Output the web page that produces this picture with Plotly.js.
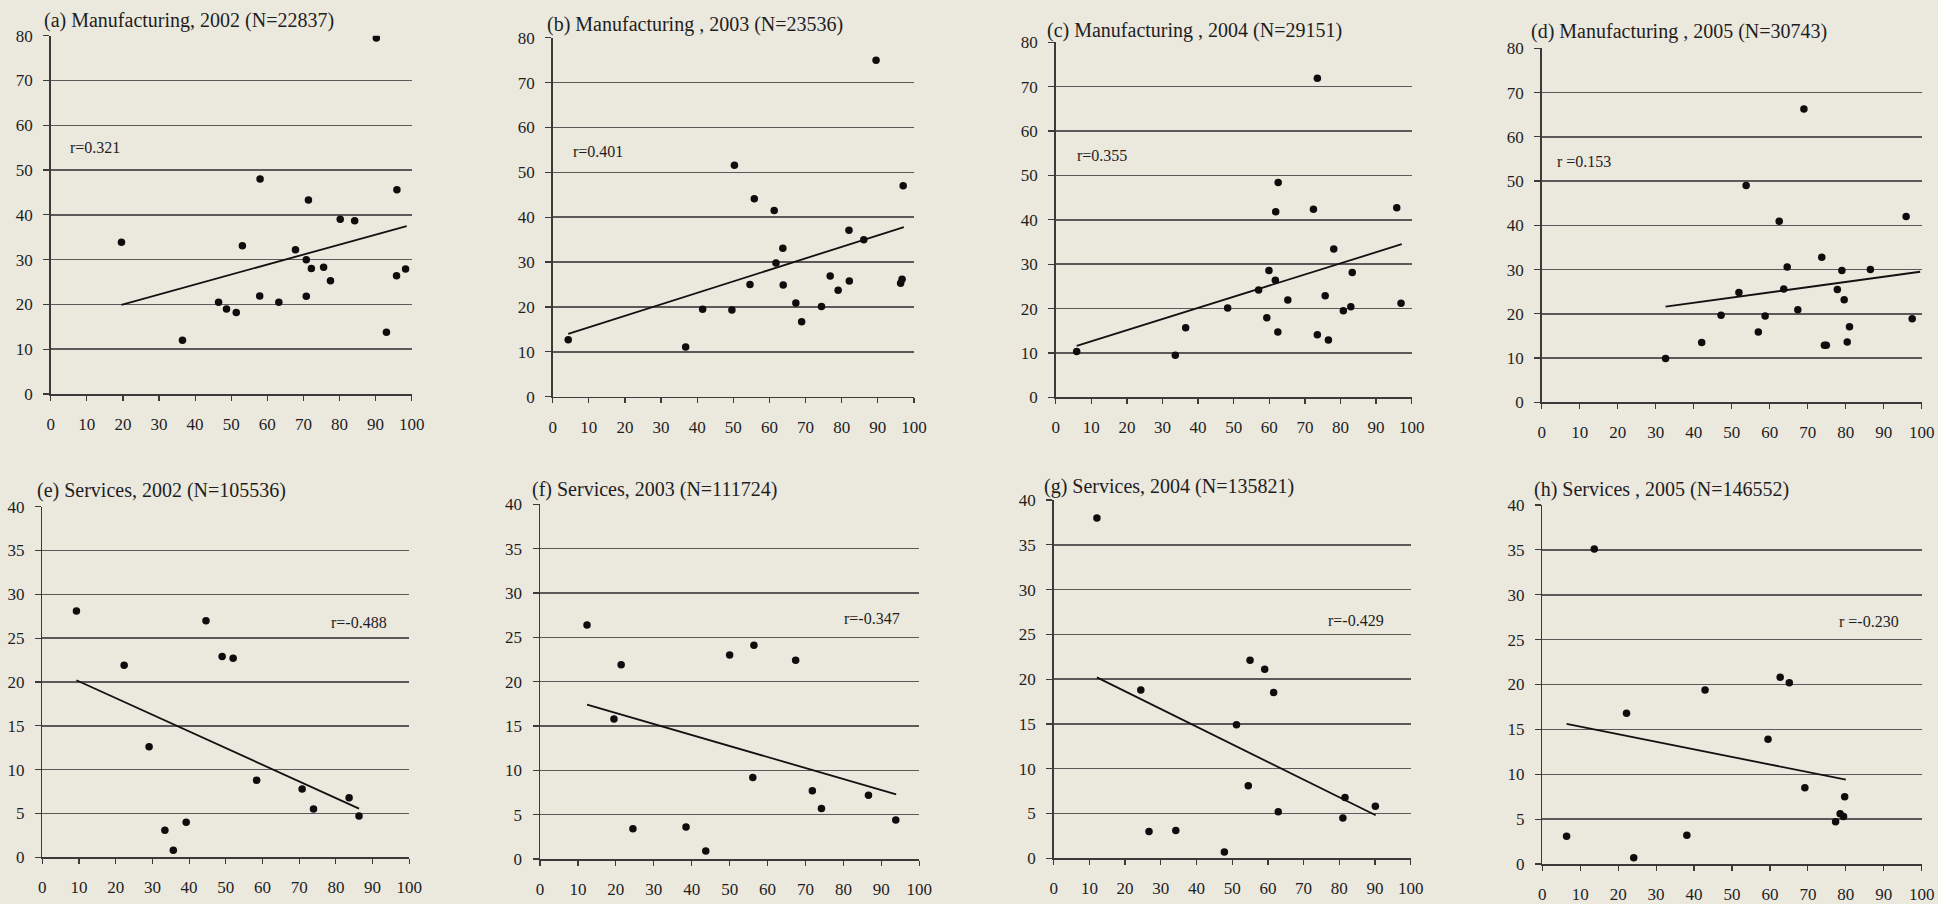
<!DOCTYPE html>
<html>
<head>
<meta charset="utf-8">
<script src="https://cdn.plot.ly/plotly-3.0.1.min.js"></script>
<style>
html,body{margin:0;padding:0;background:#ebe8de;}
#chart{width:1938px;height:904px;}
</style>
</head>
<body>
<div id="chart"></div>
<script>
// ---------- data ----------
const titles = [
  "(a) Manufacturing, 2002 (N=22837)",
  "(b) Manufacturing , 2003 (N=23536)",
  "(c) Manufacturing , 2004 (N=29151)",
  "(d) Manufacturing , 2005 (N=30743)",
  "(e) Services, 2002 (N=105536)",
  "(f) Services, 2003 (N=111724)",
  "(g) Services, 2004 (N=135821)",
  "(h) Services , 2005 (N=146552)"
];
const rLabels = ["r=0.321", "r=0.401", "r=0.355", "r =0.153", "r=-0.488", "r=-0.347", "r=-0.429", "r =-0.230"];
const xTicks = [0, 10, 20, 30, 40, 50, 60, 70, 80, 90, 100];
const yTicksManu = [0, 10, 20, 30, 40, 50, 60, 70, 80];
const yTicksServ = [0, 5, 10, 15, 20, 25, 30, 35, 40];

const aX = [19.6, 36.5, 46.5, 48.7, 51.4, 53.1, 58.0, 57.9, 63.2, 67.8, 70.8, 70.8, 71.4, 72.2, 75.6, 77.5, 80.2, 84.2, 90.2, 93.0, 95.9, 95.8, 98.3];
const aY = [33.9, 12.0, 20.5, 19.0, 18.2, 33.1, 48.0, 21.9, 20.5, 32.2, 30.0, 21.8, 43.3, 28.0, 28.3, 25.3, 39.0, 38.7, 79.5, 13.8, 45.6, 26.4, 27.9];
const aTrendX = [19.6, 98.6];
const aTrendY = [19.9, 37.5];

const bX = [4.3, 36.8, 41.5, 49.6, 50.3, 54.6, 55.8, 61.3, 61.8, 63.7, 63.8, 67.3, 68.9, 74.4, 76.8, 79.0, 82.0, 82.1, 86.1, 89.5, 96.3, 96.7, 97.0];
const bY = [12.7, 11.1, 19.5, 19.3, 51.6, 25.0, 44.1, 41.5, 29.8, 33.1, 24.9, 20.9, 16.7, 20.1, 26.9, 23.7, 37.1, 25.8, 35.0, 75.0, 25.3, 26.2, 47.0];
const bTrendX = [4.3, 97.2];
const bTrendY = [14.0, 37.8];

const cX = [5.9, 33.6, 36.5, 48.3, 57.0, 59.3, 59.9, 61.7, 61.8, 62.5, 62.4, 65.2, 72.4, 73.5, 73.5, 75.7, 76.6, 78.1, 80.8, 82.9, 83.3, 95.8, 97.0];
const cY = [10.3, 9.5, 15.7, 20.1, 24.2, 17.9, 28.6, 26.4, 41.8, 48.4, 14.7, 21.9, 42.4, 71.9, 14.1, 22.9, 12.9, 33.4, 19.5, 20.4, 28.1, 42.7, 21.2];
const cTrendX = [5.9, 97.2];
const cTrendY = [11.6, 34.5];

const dX = [32.6, 42.1, 47.2, 51.9, 53.8, 57.0, 58.8, 62.5, 63.7, 64.6, 67.4, 69.0, 73.7, 74.4, 74.9, 77.8, 79.0, 79.6, 80.4, 81.0, 86.5, 95.9, 97.5];
const dY = [9.9, 13.5, 19.7, 24.8, 49.0, 15.9, 19.5, 40.9, 25.6, 30.6, 20.9, 66.3, 32.8, 12.9, 12.9, 25.5, 29.8, 23.2, 13.6, 17.1, 30.0, 42.0, 18.9];
const dTrendX = [32.6, 99.6];
const dTrendY = [21.6, 29.5];

const eX = [9.3, 22.3, 29.1, 33.4, 35.7, 39.2, 44.6, 49.0, 52.0, 58.4, 70.8, 73.9, 83.6, 86.3];
const eY = [28.1, 21.9, 12.6, 3.1, 0.8, 4.0, 27.0, 22.9, 22.7, 8.8, 7.8, 5.5, 6.8, 4.7];
const eTrendX = [9.3, 86.3];
const eTrendY = [20.2, 5.55];

const fX = [12.4, 19.5, 21.4, 24.5, 38.5, 43.7, 50.0, 56.4, 56.1, 67.4, 71.8, 74.2, 86.6, 93.8];
const fY = [26.4, 15.8, 21.9, 3.4, 3.6, 0.9, 23.0, 24.1, 9.2, 22.4, 7.7, 5.7, 7.2, 4.4];
const fTrendX = [12.4, 93.9];
const fTrendY = [17.4, 7.3];

const gX = [12.1, 24.4, 26.7, 34.2, 47.8, 51.2, 54.5, 55.0, 59.1, 61.6, 62.9, 81.0, 81.6, 90.1];
const gY = [38.0, 18.8, 3.0, 3.1, 0.7, 14.9, 8.1, 22.1, 21.1, 18.5, 5.2, 4.5, 6.8, 5.8];
const gTrendX = [12.1, 90.2];
const gTrendY = [20.2, 4.8];

const hX = [6.4, 13.7, 22.2, 24.1, 38.1, 42.9, 59.5, 62.7, 65.1, 69.2, 77.3, 78.5, 79.4, 79.7];
const hY = [3.1, 35.1, 16.8, 0.7, 3.2, 19.4, 13.9, 20.8, 20.2, 8.5, 4.7, 5.6, 5.3, 7.5];
const hTrendX = [6.4, 80.0];
const hTrendY = [15.6, 9.4];

// ---------- layout config (pixel boxes of each plot area) ----------
const W = 1938, H = 904;
const panels = [
  {x: aX, y: aY, tx: aTrendX, ty: aTrendY, yTicks: yTicksManu, box: [50.7, 411.7, 35.7, 394.0], title: [41.7, 20], r: [4.7, 55, 'left']},
  {x: bX, y: bY, tx: bTrendX, ty: bTrendY, yTicks: yTicksManu, box: [552.7, 914.0, 37.7, 396.7], title: [545, 25], r: [5.0, 54.6, 'left']},
  {x: cX, y: cY, tx: cTrendX, ty: cTrendY, yTicks: yTicksManu, box: [1055.7, 1411.7, 42.3, 397.3], title: [1045, 30.7], r: [5.4, 54.4, 'left']},
  {x: dX, y: dY, tx: dTrendX, ty: dTrendY, yTicks: yTicksManu, box: [1541.7, 1921.7, 48.3, 402.3], title: [1529.3, 31.7], r: [3.5, 54.4, 'left']},
  {x: eX, y: eY, tx: eTrendX, ty: eTrendY, yTicks: yTicksServ, box: [42.3, 409.3, 506.7, 857.3], title: [35, 490], r: [94.5, 26.8, 'right']},
  {x: fX, y: fY, tx: fTrendX, ty: fTrendY, yTicks: yTicksServ, box: [540.0, 919.3, 504.3, 859.0], title: [530, 489], r: [95.4, 27.1, 'right']},
  {x: gX, y: gY, tx: gTrendX, ty: gTrendY, yTicks: yTicksServ, box: [1053.7, 1410.7, 500.0, 858.3], title: [1041.7, 486.7], r: [93.0, 26.5, 'right']},
  {x: hX, y: hY, tx: hTrendX, ty: hTrendY, yTicks: yTicksServ, box: [1542.3, 1921.7, 505.0, 864.0], title: [1531.7, 489.3], r: [94.5, 27.0, 'right']}
];

const FONT = "Liberation Serif, Times New Roman, serif";
const INK = "#1e1e1e";
const traces = [];
const layout = {
  width: W, height: H,
  margin: {l: 0, r: 0, t: 0, b: 0, pad: 0},
  paper_bgcolor: "#ebe8de",
  plot_bgcolor: "rgba(0,0,0,0)",
  showlegend: false,
  font: {family: FONT, color: INK},
  annotations: []
};

panels.forEach((p, i) => {
  const n = i + 1;
  const xa = n === 1 ? "x" : "x" + n;
  const ya = n === 1 ? "y" : "y" + n;
  const xKey = n === 1 ? "xaxis" : "xaxis" + n;
  const yKey = n === 1 ? "yaxis" : "yaxis" + n;
  const [l, r, t, b] = p.box;
  const yMax = p.yTicks[p.yTicks.length - 1];

  layout[xKey] = {
    domain: [l / W, r / W],
    anchor: ya,
    range: [0, 100],
    tickmode: "array",
    tickvals: xTicks,
    ticktext: xTicks.map(String),
    showgrid: false,
    zeroline: false,
    showline: true,
    linecolor: "#3a3a3a",
    linewidth: 1.5,
    ticks: "outside",
    ticklen: 5,
    tickwidth: 1.2,
    tickcolor: "#3a3a3a",
    ticklabelstandoff: 9,
    tickfont: {family: FONT, size: 17, color: INK},
    fixedrange: true
  };
  layout[yKey] = {
    domain: [1 - b / H, 1 - t / H],
    anchor: xa,
    range: [0, yMax],
    tickmode: "array",
    tickvals: p.yTicks,
    ticktext: p.yTicks.map(String),
    showgrid: true,
    gridcolor: "#5a5a5a",
    gridwidth: 1.5,
    zeroline: false,
    showline: true,
    linecolor: "#3a3a3a",
    linewidth: 1.5,
    ticks: "outside",
    ticklen: 6,
    tickwidth: 1.2,
    tickcolor: "#3a3a3a",
    ticklabelstandoff: 7,
    tickfont: {family: FONT, size: 17, color: INK},
    fixedrange: true
  };

  traces.push({
    type: "scatter", mode: "lines",
    x: p.tx, y: p.ty, xaxis: xa, yaxis: ya,
    line: {color: "#111", width: 1.8},
    hoverinfo: "skip"
  });
  traces.push({
    type: "scatter", mode: "markers",
    x: p.x, y: p.y, xaxis: xa, yaxis: ya,
    marker: {color: "#0d0d0d", size: 7.5, line: {width: 0}},
    hoverinfo: "x+y"
  });

  layout.annotations.push({
    xref: "paper", yref: "paper",
    x: p.title[0] / W, y: 1 - p.title[1] / H,
    xanchor: "left", yanchor: "middle",
    text: titles[i], showarrow: false,
    font: {family: FONT, size: 20, color: INK}
  });
  layout.annotations.push({
    xref: xa, yref: ya,
    x: p.r[0], y: p.r[1],
    xanchor: p.r[2], yanchor: "middle",
    text: rLabels[i], showarrow: false,
    font: {family: FONT, size: 16, color: INK}
  });
});

Plotly.newPlot("chart", traces, layout, {staticPlot: true, displayModeBar: false});
</script>
</body>
</html>
